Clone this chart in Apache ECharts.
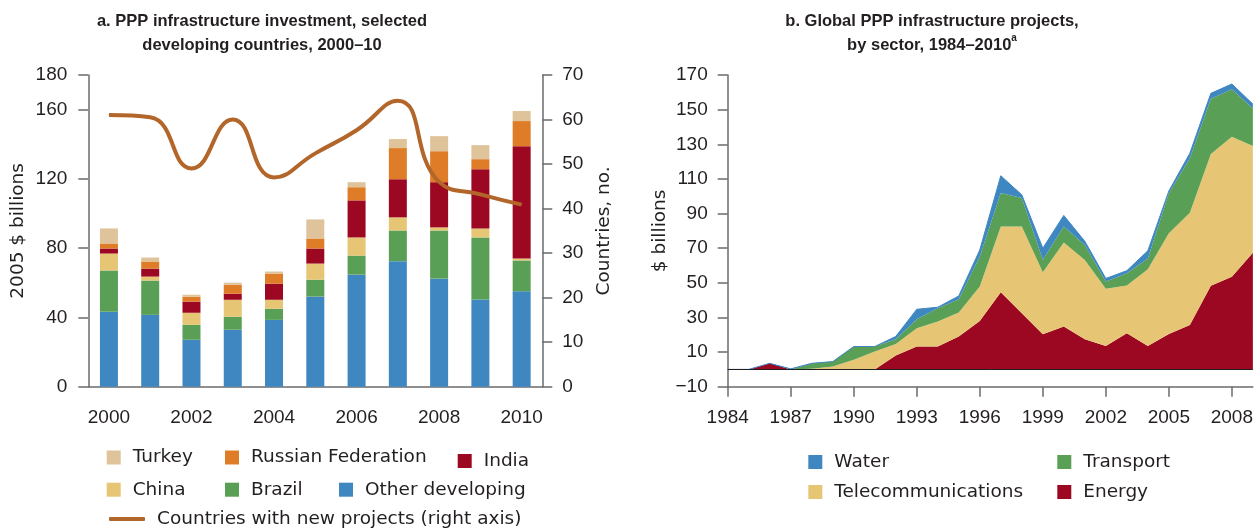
<!DOCTYPE html>
<html>
<head>
<meta charset="utf-8">
<title>PPP infrastructure investment</title>
<script src="https://cdn.jsdelivr.net/npm/echarts@6.0.0/dist/echarts.min.js"></script>
<style>
  html, body { margin: 0; padding: 0; background: #fff; }
  #chart { width: 1256px; height: 528px; }
</style>
</head>
<body>
<div id="chart"></div>
<script>
// panel a: developing countries, 2005 $ billions
const years = ['2000', '2001', '2002', '2003', '2004', '2005', '2006', '2007', '2008', '2009', '2010'];
const otherDeveloping = [43.3, 41.5, 27.1, 32.9, 38.6, 52.0, 64.7, 72.5, 62.4, 50.4, 55.1];
const brazil = [23.8, 19.8, 8.6, 7.5, 6.4, 9.8, 11.0, 17.7, 27.8, 35.8, 17.8];
const china = [9.8, 2.3, 7.0, 9.8, 5.2, 9.3, 10.5, 7.6, 1.8, 5.2, 1.1];
const india = [2.9, 4.6, 6.4, 3.5, 9.3, 8.7, 21.4, 22.0, 26.1, 34.2, 64.9];
const russia = [2.9, 4.1, 2.9, 5.2, 5.8, 5.8, 7.6, 18.0, 17.9, 5.8, 14.5];
const turkey = [8.7, 2.3, 1.1, 1.2, 1.2, 11.0, 2.9, 5.2, 8.7, 8.1, 5.8];
const countriesNew = [61, 60.5, 49, 60, 47, 52.4, 57.6, 64.2, 46, 43.2, 40.9];
const leftTicks = [0, 40, 80, 120, 160, 180];

// panel b: global, by sector, $ billions (picture is cut at 2009)
const sectorYears = ['1984', '1985', '1986', '1987', '1988', '1989', '1990', '1991', '1992', '1993',
  '1994', '1995', '1996', '1997', '1998', '1999', '2000', '2001', '2002', '2003', '2004', '2005',
  '2006', '2007', '2008', '2009'];
const energy = [0, 0, 3.5, 0, 0, 0, 0, 0, 8, 13.2, 13.2, 19, 28, 44.6, 32.4, 20.3, 24.7, 17.4, 13.5,
  20.8, 13.5, 20.4, 25.6, 48.3, 53.5, 67.4];
const telecom = [0, 0, 0, 0, 0.3, 1.6, 5.5, 10.3, 6.7, 10.6, 14.4, 13.8, 19.8, 37.9, 50.1, 35.8, 48.6,
  45.8, 33.1, 27.7, 44.3, 58.2, 64.9, 76.1, 80.8, 61.6];
const transport = [0, 0, 0, 0, 3.2, 2.9, 7.7, 2.9, 2.7, 5.2, 7.7, 7.7, 17.4, 19.3, 16.4, 7.2, 9.2,
  8.6, 4.2, 7.0, 6.3, 23.1, 31.4, 31.9, 27.4, 21.7];
const water = [0, 0, 0, 0.3, 0, 0, 0, 0, 1.6, 5.7, 0.6, 1.9, 3.8, 10, 1.9, 6.7, 6.4, 2.2, 1.7, 1.5,
  4.4, 1.3, 2.9, 3.1, 3.1, 2.5];
const sectorTicks = [-10, 10, 30, 50, 70, 90, 110, 130, 150, 170];

const ink = '#231f20';
const axisGray = '#6b6b6b';
const numFont = '"Liberation Sans", Arial, sans-serif';
const textFont = '"DejaVu Sans", sans-serif';
const titleFont = '"Liberation Sans", Arial, sans-serif';

const colors = {
  turkey: '#dfc39b',
  russia: '#df7c27',
  india: '#9c0721',
  china: '#e6c674',
  brazil: '#5a9f56',
  other: '#3f87c1',
  line: '#b3662a'
};

function legendItem(name, left, centerY, opts) {
  opts = opts || {};
  return Object.assign({
    data: [name],
    left: left,
    top: centerY - 10,
    padding: 0,
    itemWidth: 14,
    itemHeight: 14,
    icon: 'rect',
    selectedMode: false,
    textStyle: {
      fontFamily: textFont, fontSize: 18.5, color: ink, lineHeight: 20,
      padding: [0, 0, 0, 7]
    }
  }, opts);
}

const axisLineStyle = { color: axisGray, width: 1.5 };
const numLabel = { fontFamily: numFont, fontSize: 19, color: ink };
const axisName = { fontFamily: textFont, fontSize: 18.5, color: ink };

let chart = echarts.init(document.getElementById('chart'), null, { renderer: 'canvas' });

let stackBar = (name, data, color) => ({
  name: name,
  type: 'bar',
  stack: 'inv',
  barWidth: 18,
  xAxisIndex: 0,
  yAxisIndex: 0,
  itemStyle: { color: color },
  data: data
});

let sectorArea = (name, data, color, lineW) => ({
  name: name,
  type: 'line',
  stack: 'sector',
  xAxisIndex: 1,
  yAxisIndex: 2,
  symbol: 'none',
  lineStyle: { width: lineW || 0, color: color },
  itemStyle: { color: color },
  areaStyle: { color: color, opacity: 1 },
  data: data
});

chart.setOption({
  animation: false,
  title: [
    {
      text: 'a. PPP infrastructure investment, selected\ndeveloping countries, 2000–10',
      left: 262, top: 10, textAlign: 'center', padding: 0,
      textStyle: { fontFamily: titleFont, fontWeight: 'bold', fontSize: 16.5, lineHeight: 23.5, color: ink }
    },
    {
      text: 'b. Global PPP infrastructure projects,\nby sector, 1984–2010{sup|a}',
      left: 932, top: 10, textAlign: 'center', padding: 0,
      textStyle: {
        fontFamily: titleFont, fontWeight: 'bold', fontSize: 16.5, lineHeight: 23.5, color: ink,
        rich: {
          sup: { fontFamily: titleFont, fontWeight: 'bold', fontSize: 10, lineHeight: 17, verticalAlign: 'top', color: ink }
        }
      }
    }
  ],
  legend: [
    legendItem('Turkey', 106.7, 457.5),
    legendItem('Russian Federation', 225, 457.5),
    legendItem('India', 457.7, 461),
    legendItem('China', 106.7, 489.7),
    legendItem('Brazil', 225, 489.7),
    legendItem('Other developing', 339, 489.7),
    legendItem('Countries with new projects (right axis)', 109, 519, { icon: 'roundRect', itemWidth: 36, itemHeight: 4 }),
    legendItem('Water', 808.3, 462),
    legendItem('Transport', 1057.3, 462),
    legendItem('Telecommunications', 808.3, 492),
    legendItem('Energy', 1057.3, 492)
  ],
  grid: [
    { left: 88.3, top: 75, right: 713.7, bottom: 141.3 },
    { left: 727.7, top: 75, right: 3, bottom: 141.3 }
  ],
  xAxis: [
    {
      type: 'category',
      gridIndex: 0,
      data: years,
      boundaryGap: true,
      axisLine: { lineStyle: axisLineStyle },
      axisTick: { interval: 0, length: 10, alignWithLabel: false, lineStyle: axisLineStyle },
      axisLabel: Object.assign({ interval: 1, margin: 22 }, numLabel),
      splitLine: { show: false }
    },
    {
      type: 'category',
      gridIndex: 1,
      data: sectorYears,
      boundaryGap: false,
      axisLine: { onZero: false, lineStyle: axisLineStyle },
      axisTick: { interval: 2, length: 10, lineStyle: axisLineStyle },
      axisLabel: Object.assign({ interval: 2, margin: 22 }, numLabel),
      splitLine: { show: false }
    }
  ],
  yAxis: [
    {
      type: 'value',
      gridIndex: 0,
      min: 0,
      max: 180,
      name: '2005 $ billions',
      nameLocation: 'middle',
      nameGap: 61,
      nameTextStyle: axisName,
      axisLine: { show: true, lineStyle: axisLineStyle },
      axisTick: { show: true, length: 10, customValues: leftTicks, lineStyle: axisLineStyle },
      axisLabel: Object.assign({ margin: 21, customValues: leftTicks }, numLabel),
      splitLine: { show: false }
    },
    {
      type: 'value',
      gridIndex: 0,
      position: 'right',
      min: 0,
      max: 70,
      interval: 10,
      name: 'Countries, no.',
      nameLocation: 'middle',
      nameGap: 52,
      nameTextStyle: axisName,
      axisLine: { show: true, lineStyle: axisLineStyle },
      axisTick: { show: true, length: 10, lineStyle: axisLineStyle },
      axisLabel: Object.assign({ margin: 20 }, numLabel),
      splitLine: { show: false }
    },
    {
      type: 'value',
      gridIndex: 1,
      min: -10,
      max: 170,
      name: '$ billions',
      nameLocation: 'middle',
      nameGap: 58,
      nameTextStyle: axisName,
      axisLine: { show: true, onZero: false, lineStyle: axisLineStyle },
      axisTick: { show: true, length: 10, customValues: sectorTicks, lineStyle: axisLineStyle },
      axisLabel: Object.assign({
        margin: 20,
        customValues: sectorTicks,
        formatter: v => (v < 0 ? '\u2212' + Math.abs(v) : String(v))
      }, numLabel),
      splitLine: { show: false }
    }
  ],
  series: [
    stackBar('Other developing', otherDeveloping, colors.other),
    stackBar('Brazil', brazil, colors.brazil),
    stackBar('China', china, colors.china),
    stackBar('India', india, colors.india),
    stackBar('Russian Federation', russia, colors.russia),
    stackBar('Turkey', turkey, colors.turkey),
    {
      name: 'Countries with new projects (right axis)',
      type: 'line',
      xAxisIndex: 0,
      yAxisIndex: 1,
      smooth: true,
      symbol: 'none',
      z: 5,
      lineStyle: { width: 4, color: colors.line },
      itemStyle: { color: colors.line },
      data: countriesNew
    },
    Object.assign(sectorArea('Energy', energy, colors.india), {
      markLine: {
        silent: true,
        symbol: ['none', 'none'],
        label: { show: false },
        lineStyle: { color: ink, width: 1, type: 'solid' },
        data: [{ yAxis: 0 }]
      }
    }),
    sectorArea('Telecommunications', telecom, colors.china),
    sectorArea('Transport', transport, colors.brazil),
    sectorArea('Water', water, colors.other, 1)
  ]
});
</script>
</body>
</html>
